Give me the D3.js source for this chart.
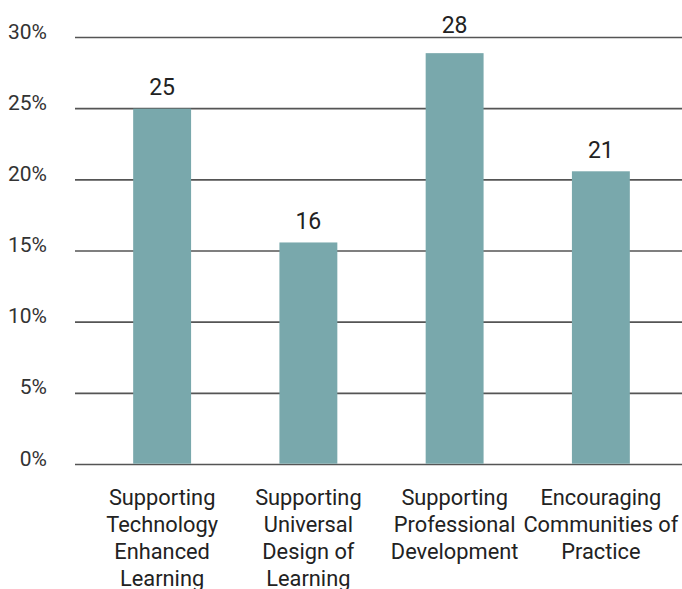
<!DOCTYPE html>
<html>
<head>
<meta charset="utf-8">
<script src="https://cdn.jsdelivr.net/npm/d3@7"></script>
<style>
  html, body { margin: 0; padding: 0; background: #fff; }
  svg { display: block; font-family: Roboto, "Noto Sans", sans-serif; }
</style>
</head>
<body>
<svg id="chart" width="682" height="589"></svg>
<script>
const categories = [
  ["Supporting", "Technology", "Enhanced", "Learning"],
  ["Supporting", "Universal", "Design of", "Learning"],
  ["Supporting", "Professional", "Development"],
  ["Encouraging", "Communities of", "Practice"]
];
const values = [25, 15.6, 28.9, 20.6];
const valueLabels = ["25", "16", "28", "21"];
const yTicks = [0, 5, 10, 15, 20, 25, 30];

const plot = { left: 75, right: 682, top: 37.5, bottom: 464.5 };
const svg = d3.select("#chart");

const x = d3.scaleBand()
  .domain(d3.range(categories.length))
  .range([89, 674])
  .paddingInner(0.604)
  .paddingOuter(0.302);

const y = d3.scaleLinear().domain([0, 30]).range([plot.bottom, plot.top]);

// gridlines
svg.append("g").selectAll("line")
  .data(yTicks)
  .join("line")
  .attr("x1", plot.left).attr("x2", plot.right)
  .attr("y1", d => y(d)).attr("y2", d => y(d))
  .attr("stroke", "#555").attr("stroke-width", 1.6);

// y tick labels
svg.append("g").selectAll("text")
  .data(yTicks)
  .join("text")
  .attr("x", 47).attr("y", d => y(d) + 1)
  .attr("text-anchor", "end")
  .attr("font-size", 21)
  .attr("fill", "#333")
  .text(d => d + "%");

// bars
svg.append("g").selectAll("rect")
  .data(values)
  .join("rect")
  .attr("x", (d, i) => x(i))
  .attr("width", x.bandwidth())
  .attr("y", d => y(d))
  .attr("height", d => y(0) - y(d) - 0.8)
  .attr("fill", "#79a8ac");

// value labels: sit above bar; if they would cross a gridline, lift above it
function labelBaseline(v) {
  let b = y(v) - 13.5;
  const textTop = b - 17;
  yTicks.forEach(t => {
    const gy = y(t);
    if (gy > textTop - 1 && gy < b + 2) b = Math.min(b, gy - 5);
  });
  return b;
}
svg.append("g").selectAll("text")
  .data(values)
  .join("text")
  .attr("x", (d, i) => x(i) + x.bandwidth() / 2)
  .attr("y", d => labelBaseline(d))
  .attr("text-anchor", "middle")
  .attr("font-size", 23)
  .attr("fill", "#222")
  .text((d, i) => valueLabels[i]);

// category labels
const cat = svg.append("g").selectAll("text")
  .data(categories)
  .join("text")
  .attr("x", (d, i) => x(i) + x.bandwidth() / 2)
  .attr("y", 505)
  .attr("text-anchor", "middle")
  .attr("font-size", 21.8)
  .attr("fill", "#222");
cat.selectAll("tspan")
  .data(d => d)
  .join("tspan")
  .attr("x", function() { return d3.select(this.parentNode).attr("x"); })
  .attr("dy", (d, j) => j === 0 ? 0 : 27)
  .text(d => d);
</script>
</body>
</html>
